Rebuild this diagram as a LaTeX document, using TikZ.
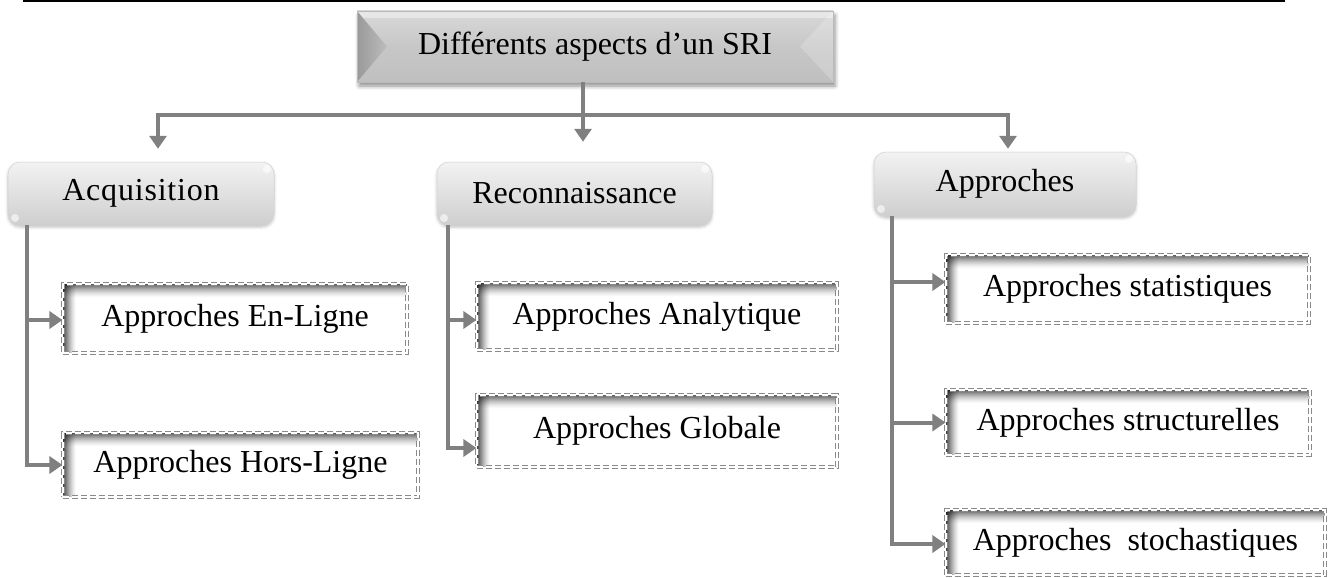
\documentclass[tikz,border=0pt]{standalone}
\usepackage{fontspec}
\setmainfont{Liberation Serif}
\usetikzlibrary{arrows.meta,calc,shadows.blur}

\definecolor{linkgray}{HTML}{808080}
\definecolor{dashgray}{HTML}{8A8A8A}

\begin{document}
\begin{tikzpicture}[x=1pt,y=-1pt,
  every node/.style={font=\fontsize{32}{38}\selectfont, inner sep=0pt},
  % gray connectors with a solid triangular head
  conn/.style={draw=linkgray, line width=4pt, -{Triangle[length=13pt,width=17pt]}},
  stem/.style={draw=linkgray, line width=4pt},
  % bevelled header box
  titlebox/.style={top color=gray!30, bottom color=gray!50, middle color=gray!44,
    draw=gray!55, line width=0.6pt,
    blur shadow={shadow xshift=2pt, shadow yshift=-4pt, shadow blur radius=4pt, shadow opacity=45},
    path picture={
      \coordinate (pnw) at (path picture bounding box.north west);
      \coordinate (psw) at (path picture bounding box.south west);
      \coordinate (pne) at (path picture bounding box.north east);
      \coordinate (pse) at (path picture bounding box.south east);
      \coordinate (pw) at (path picture bounding box.west);
      \coordinate (pe) at (path picture bounding box.east);
      \fill[white, opacity=0.4] (pnw) rectangle ($(pne)+(0,7)$);
      \shade[left color=gray!80, right color=gray!52] (pnw) -- ($(pw)+(30,0)$) -- (psw) -- cycle;
      \fill[white, opacity=0.2] (pne) -- ($(pe)+(-33,0)$) -- (pse) -- cycle;
    }},
  % rounded glossy category boxes
  levelbox/.style={rounded corners=12pt, top color=gray!10, bottom color=gray!38,
    draw=gray!35, line width=0.5pt,
    blur shadow={shadow xshift=0pt, shadow yshift=-2pt, shadow blur radius=3pt, shadow opacity=25},
    path picture={
      \fill[white, opacity=0.6] ($(path picture bounding box.north east)+(-7,7)$) circle (4);
      \fill[white, opacity=0.6] ($(path picture bounding box.south west)+(7,-7)$) circle (4);
    }},
  % dashed leaf boxes with an inner shadow on the top and left edges,
  % built from thin strips whose opacity fades away from the edge
  leafbox/.style={fill=white, draw=dashgray, line width=1.1pt, double=white,
    double distance=1.6pt, dash pattern=on 6pt off 3pt,
    path picture={
      \coordinate (lnw) at (path picture bounding box.north west);
      \coordinate (lne) at (path picture bounding box.north east);
      \coordinate (lsw) at (path picture bounding box.south west);
      \foreach \i in {0,...,13}{
        \pgfmathsetmacro\op{0.62*(1-\i/14)^1.6}
        \fill[black, opacity=\op] ($(lnw)+(0,\i)$) rectangle ($(lne)+(0,\i+1)$);
      }
      \foreach \i in {0,...,12}{
        \pgfmathsetmacro\op{0.72*(1-\i/13)^1.4}
        \fill[black, opacity=\op] ($(lnw)+(\i,0)$) rectangle ($(lsw)+(\i+1,0)$);
      }
    }},
]
\useasboundingbox (0,0) rectangle (1330,578);

% rule across the top
\draw[line width=2.5pt] (23,1.25) -- (1285,1.25);

% header
\node[titlebox, minimum width=476pt, minimum height=71pt] (title) at (595,46.5)
  {Différents aspects d’un SRI};

% categories
\node[levelbox, minimum width=266pt, minimum height=63pt] (acq) at (141,193.5)
  {\addfontfeature{LetterSpace=2.5}Acquisition};
\node[levelbox, minimum width=275pt, minimum height=63pt] (rec) at (574.5,193.5)
  {Reconnaissance};
\node[levelbox, minimum width=262pt, minimum height=64pt] (app) at (1005,184)
  {Approches};

% leaves
\node[leafbox, minimum width=344pt, minimum height=69pt] (enl) at (235,318.5)
  {Approches En-Ligne};
\node[leafbox, minimum width=355pt, minimum height=64pt] (hl) at (240.5,465)
  {Approches Hors-Ligne};
\node[leafbox, minimum width=360pt, minimum height=67pt] (ana) at (657,316.5)
  {Approches Analytique};
\node[leafbox, minimum width=360pt, minimum height=72pt] (glo) at (657,431)
  {Approches Globale};
\node[leafbox, minimum width=363pt, minimum height=68pt] (stat) at (1127.5,289)
  {Approches statistiques};
\node[leafbox, minimum width=364pt, minimum height=65pt] (struct) at (1128,422.5)
  {Approches structurelles};
\node[leafbox, minimum width=379pt, minimum height=65pt] (stoch) at (1135.5,542.5)
  {Approches\ \ stochastiques};

% header to categories
\coordinate (hub) at (583,115);
\draw[stem] (title.south -| hub) -- (hub);
\draw[conn] (hub) -| ($(acq.north)+(17,-13)$);
\draw[conn] (hub) -- ($(rec.north)+(8.5,-20)$);
\draw[conn] (hub) -| ($(app.north)+(3,-3)$);

% categories to leaves
\coordinate (acqstem) at ($(acq.south west)+(19,0)$);
\draw[conn] (acqstem) |- ([yshift=-1.5pt]enl.west);
\draw[conn] (acqstem) |- (hl.west);

\coordinate (recstem) at ($(rec.south west)+(11,0)$);
\draw[conn] (recstem) |- ([yshift=-3.5pt]ana.west);
\draw[conn] (recstem) |- ([yshift=-17pt]glo.west);

\coordinate (appstem) at ($(app.south west)+(18,0)$);
\draw[conn] (appstem) |- ([yshift=7pt]stat.west);
\draw[conn] (appstem) |- (struct.west);
\draw[conn] (appstem) |- ([yshift=-1.5pt]stoch.west);
\end{tikzpicture}
\end{document}
